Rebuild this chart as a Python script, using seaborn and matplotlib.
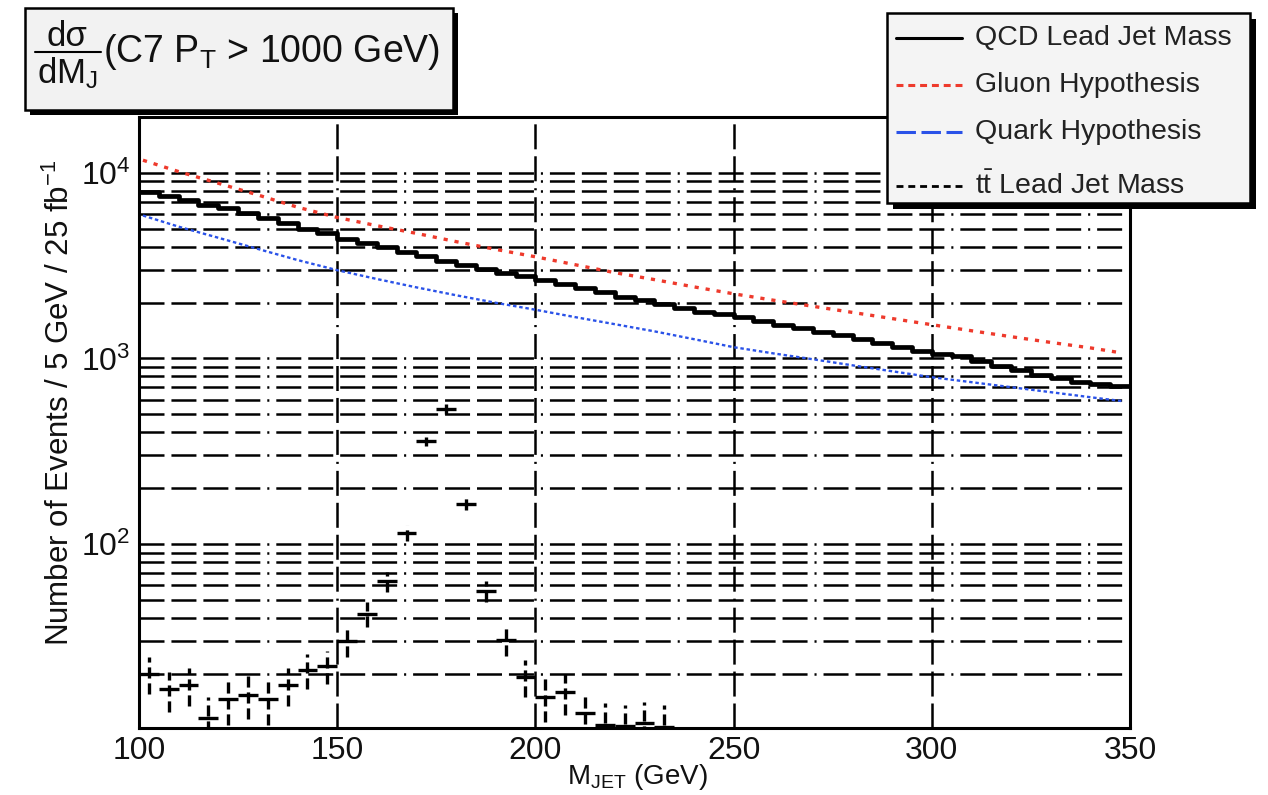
import matplotlib
matplotlib.use("Agg")
import matplotlib.pyplot as plt
import seaborn as sns
from matplotlib.patches import Rectangle
from matplotlib.lines import Line2D
from matplotlib.ticker import FixedLocator, LogLocator, NullFormatter, MultipleLocator

# ---------------- data ----------------
qcd_bin_low = [100, 105, 110, 115, 120, 125, 130, 135, 140, 145,
               150, 155, 160, 165, 170, 175, 180, 185, 190, 195,
               200, 205, 210, 215, 220, 225, 230, 235, 240, 245,
               250, 255, 260, 265, 270, 275, 280, 285, 290, 295,
               300, 305, 310, 315, 320, 325, 330, 335, 340, 345]
qcd_bin_high_edge = 350
qcd_counts = [7900, 7550, 7150, 6750, 6450, 6050, 5700, 5350, 5000, 4720,
              4420, 4200, 3970, 3760, 3560, 3360, 3190, 3040, 2900, 2780,
              2650, 2520, 2400, 2270, 2150, 2060, 1960, 1870, 1790, 1730,
              1670, 1590, 1520, 1450, 1390, 1330, 1265, 1205, 1150, 1095,
              1060, 1035, 965, 915, 865, 815, 780, 750, 730, 710]

curve_mass = [101, 110, 120, 130, 140, 150, 160, 170, 180, 190, 200, 210, 220,
              230, 240, 250, 260, 270, 280, 290, 300, 310, 320, 330, 340, 348]
gluon_hyp = [11700, 10160, 8790, 7600, 6530, 5750, 5190, 4720, 4260, 3870, 3530,
             3200, 2900, 2660, 2430, 2230, 2060, 1910, 1770, 1640, 1520, 1410,
             1310, 1220, 1140, 1070]
quark_hyp = [5890, 5130, 4470, 3890, 3390, 2990, 2680, 2415, 2190, 1995, 1830,
             1670, 1530, 1400, 1270, 1150, 1065, 990, 918, 853, 792, 745, 700,
             658, 618, 589]

ttbar_mass = [102.5, 107.5, 112.5, 117.5, 122.5, 127.5, 132.5, 137.5, 142.5,
              147.5, 152.5, 157.5, 162.5, 167.5, 172.5, 177.5, 182.5, 187.5,
              192.5, 197.5, 202.5, 207.5, 212.5, 217.5, 222.5, 227.5, 232.5]
ttbar_counts = [20, 16.5, 17.4, 11.5, 14.6, 15.4, 14.6, 17.4, 21, 22, 30, 42,
                63, 115, 357, 535, 165, 56, 30.5, 19.3, 15, 16, 12.3, 10.6,
                10.4, 10.8, 10.3]
ttbar_err = [4.5, 4, 4, 3.5, 4, 4, 4, 4, 4.5, 4.5, 5.5, 6.5, 8, 11, 19, 30, 13,
             7.5, 5.5, 4.4, 4, 4, 3.5, 3.3, 3.2, 3.3, 3.2]
ttbar_halfwidth = [2.5] * len(ttbar_mass)

x_ticks = [100, 150, 200, 250, 300, 350]
x_tick_labels = ["100", "150", "200", "250", "300", "350"]
y_ticks = [1e2, 1e3, 1e4]
y_tick_labels = ["$10^{2}$", "$10^{3}$", "$10^{4}$"]

legend_labels = ["QCD Lead Jet Mass", "Gluon Hypothesis", "Quark Hypothesis",
                 r"t$\bar{\mathrm{t}}$ Lead Jet Mass"]

# ---------------- style ----------------
sns.set_theme(style="white")
plt.rcParams["font.family"] = ["Liberation Sans", "DejaVu Sans"]
plt.rcParams["mathtext.fontset"] = "custom"
plt.rcParams["mathtext.rm"] = "Liberation Sans"
plt.rcParams["mathtext.it"] = "Liberation Sans:italic"
plt.rcParams["mathtext.bf"] = "Liberation Sans:bold"
plt.rcParams["lines.scale_dashes"] = False

W, H = 1268, 795
fig = plt.figure(figsize=(W / 100, H / 100), dpi=100)
fig.patch.set_facecolor("white")


def fx(x):
    return x / W


def fy(y):
    return 1 - y / H


ax = fig.add_axes([fx(139), fy(728), (1130 - 139) / W, (728 - 117) / H])
ax.set_facecolor("white")

RED = "#ee3a2c"
BLUE = "#2a52e8"

# QCD histogram
sns.lineplot(x=qcd_bin_low + [qcd_bin_high_edge], y=qcd_counts + [qcd_counts[-1]],
             drawstyle="steps-post", color="black", lw=3.4, estimator=None,
             sort=False, ax=ax, zorder=5)
# hypotheses
sns.lineplot(x=curve_mass, y=gluon_hyp, color=RED, lw=2.4, estimator=None,
             sort=False, ax=ax, zorder=4, linestyle=(0, (3, 5)))
sns.lineplot(x=curve_mass, y=quark_hyp, color=BLUE, lw=1.7, estimator=None,
             sort=False, ax=ax, zorder=4, linestyle=(0, (2.5, 2)))

# ttbar points
eb = ax.errorbar(ttbar_mass, ttbar_counts, xerr=ttbar_halfwidth, yerr=ttbar_err,
                 fmt="none", ecolor="black", elinewidth=2.4, capsize=0, zorder=6)
eb.lines[2][1].set_linestyle((0, (8, 3.5)))

ax.set_yscale("log")
ax.set_xlim(100, 350)
ax.set_ylim(10.2, 2.0e4)

# ticks
ax.xaxis.set_major_locator(FixedLocator(x_ticks))
ax.set_xticklabels(x_tick_labels)
ax.xaxis.set_minor_locator(MultipleLocator(10))
ax.yaxis.set_major_locator(FixedLocator(y_ticks))
ax.set_yticklabels(y_tick_labels)
ax.yaxis.set_minor_locator(LogLocator(base=10, subs=[2, 3, 4, 5, 6, 7, 8, 9]))
ax.yaxis.set_minor_formatter(NullFormatter())
ax.tick_params(which="both", direction="in", top=False, right=False,
               width=1.6, color="black", labelsize=23, pad=6)
ax.tick_params(which="major", length=14)
ax.tick_params(which="minor", length=7)
for lab in ax.get_xticklabels() + ax.get_yticklabels():
    lab.set_color("#111111")

# grid (dash-dot style)
grid_ls = (0, (18, 5, 18, 5, 18, 5, 18, 5, 1.5, 5))
ax.yaxis.grid(True, which="both", color="black", lw=1.8, linestyle=grid_ls)
ax.xaxis.grid(True, which="major", color="black", lw=1.8, linestyle=grid_ls)
ax.xaxis.grid(False, which="minor")
ax.set_axisbelow(True)

for s in ax.spines.values():
    s.set_color("black")
    s.set_linewidth(2.2)

ax.set_xlabel("")
ax.set_ylabel("")

# axis titles
fig.text(fx(637), fy(777), r"M$_{\mathrm{JET}}$ (GeV)", ha="center", va="center",
         fontsize=20, color="#111111")
fig.text(fx(60), fy(403), "Number of Events / 5 GeV / 25 fb$^{-1}$", rotation=90,
         ha="center", va="center", fontsize=22.5, color="#111111")

# ---------------- title box ----------------
fig.add_artist(Rectangle((fx(30), fy(115)), 428 / W, 102 / H, transform=fig.transFigure,
                         facecolor="black", edgecolor="none", zorder=8))
fig.add_artist(Rectangle((fx(25), fy(110)), 428 / W, 102 / H, transform=fig.transFigure,
                         facecolor="#f2f2f2", edgecolor="black", lw=1.8, zorder=9))
fig.text(fx(67), fy(36), "dσ", ha="center", va="center", fontsize=25,
         color="#111111", zorder=10)
fig.add_artist(Line2D([fx(35), fx(101)], [fy(52), fy(52)], transform=fig.transFigure,
                      color="black", lw=1.5, zorder=10))
fig.text(fx(67), fy(73), r"dM$_{\mathrm{J}}$", ha="center", va="center", fontsize=25,
         color="#111111", zorder=10)
fig.text(fx(103), fy(52), r"(C7 P$_{\mathrm{T}}$ > 1000 GeV)", ha="left", va="center",
         fontsize=27, color="#111111", zorder=10)

# ---------------- legend box ----------------
fig.add_artist(Rectangle((fx(893), fy(209)), 363 / W, 190 / H, transform=fig.transFigure,
                         facecolor="black", edgecolor="none", zorder=8))
fig.add_artist(Rectangle((fx(887), fy(203)), 363 / W, 190 / H, transform=fig.transFigure,
                         facecolor="#f4f4f4", edgecolor="black", lw=1.8, zorder=9))
leg_rows = [38, 85, 132, 186]
leg_styles = [dict(color="black", lw=2.2, linestyle="-"),
              dict(color=RED, lw=2.2, linestyle=(0, (5, 3.5))),
              dict(color=BLUE, lw=2.2, linestyle=(0, (14, 4))),
              dict(color="black", lw=2.0, linestyle=(0, (5, 3.5)))]
for yrow, lab, st in zip(leg_rows, legend_labels, leg_styles):
    fig.add_artist(Line2D([fx(896), fx(962)], [fy(yrow), fy(yrow)],
                          transform=fig.transFigure, zorder=10, **st))
    fig.text(fx(975), fy(yrow), lab, ha="left", va="center", fontsize=20.5,
             color="#222222", zorder=10)

fig.savefig("out.png", dpi=100)
